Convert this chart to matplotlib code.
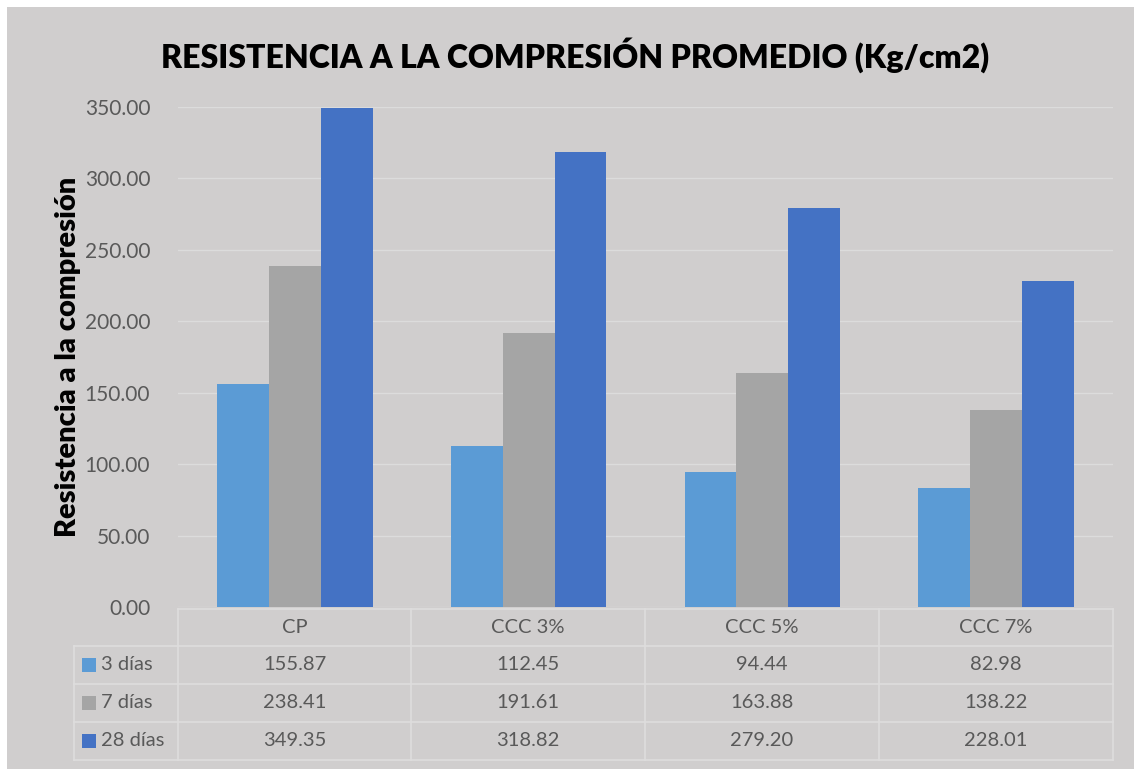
import matplotlib.pyplot as plt
from matplotlib.patches import Rectangle
import numpy as np

# data
categories = ["CP", "CCC 3%", "CCC 5%", "CCC 7%"]
series_names = ["3 días", "7 días", "28 días"]
dias_3 = [155.87, 112.45, 94.44, 82.98]
dias_7 = [238.41, 191.61, 163.88, 138.22]
dias_28 = [349.35, 318.82, 279.20, 228.01]
series_values = [dias_3, dias_7, dias_28]
colors = ["#5B9BD5", "#A5A5A5", "#4472C4"]
yticks = [0, 50, 100, 150, 200, 250, 300, 350]

BG = "#D0CECE"
LINE = "#DEDDDD"
TXT = "#595959"

plt.rcParams['font.family'] = ['Lato', 'DejaVu Sans']

W, H = 1134, 769
fig = plt.figure(figsize=(W / 100, H / 100), dpi=100, facecolor="white")
fig.patches.append(Rectangle((7 / W, 0), 1 - 7 / W, 1 - 7 / H,
                             transform=fig.transFigure, facecolor=BG,
                             edgecolor="none", zorder=-10))

def px(x0, y0, x1, y1):
    return [x0 / W, 1 - y1 / H, (x1 - x0) / W, (y1 - y0) / H]

ax = fig.add_axes(px(178, 107, 1113, 607))
ax.set_facecolor("none")
x = np.arange(len(categories))
bw = 0.222
for i, (vals, c) in enumerate(zip(series_values, colors)):
    ax.bar(x + (i - 1) * bw, vals, width=bw, color=c, zorder=3)

ax.set_xlim(-0.5, len(categories) - 0.5)
ax.set_ylim(0, 350)
ax.set_yticks(yticks)
ax.set_yticklabels([f"{v:.2f}" for v in yticks], fontsize=15, color=TXT)
ax.set_xticks([])
ax.tick_params(axis="y", length=0, pad=20)
ax.grid(axis="y", color="#DCDCDC", linewidth=1, zorder=0)
for s in ax.spines.values():
    s.set_visible(False)

ax.set_ylabel("Resistencia a la compresión", fontsize=21, fontweight="heavy",
              color="black", labelpad=3)
fig.text(575 / W, 1 - 55 / H, "RESISTENCIA A LA COMPRESIÓN PROMEDIO (Kg/cm2)",
         ha="center", va="center", fontsize=23, fontweight="heavy", color="black")

# data table below the axes, drawn in pixel coordinates
tr = fig.transFigure
def fx(v):
    return v / W
def fy(v):
    return 1 - v / H

col_edges = [178, 411, 645, 879, 1113]
row_edges = [609, 646, 684, 722, 760]
lab_left = 74

def hline(y, x0, x1):
    fig.add_artist(plt.Line2D([fx(x0), fx(x1)], [fy(y), fy(y)], transform=tr,
                              color=LINE, linewidth=1.2))

def vline(xv, y0, y1):
    fig.add_artist(plt.Line2D([fx(xv), fx(xv)], [fy(y0), fy(y1)], transform=tr,
                              color=LINE, linewidth=1.2))

hline(row_edges[0], col_edges[0], col_edges[-1])
for y in row_edges[1:]:
    hline(y, lab_left, col_edges[-1])
for xv in col_edges:
    vline(xv, row_edges[0], row_edges[-1])
vline(lab_left, row_edges[1], row_edges[-1])

for j, cat in enumerate(categories):
    cx = (col_edges[j] + col_edges[j + 1]) / 2
    cy = (row_edges[0] + row_edges[1]) / 2
    fig.text(fx(cx), fy(cy), cat, ha="center", va="center", fontsize=14.5, color=TXT)

for i, (name, vals, c) in enumerate(zip(series_names, series_values, colors)):
    cy = (row_edges[i + 1] + row_edges[i + 2]) / 2
    fig.patches.append(Rectangle((fx(82), fy(cy + 7)), 14 / W, 14 / H,
                                 transform=tr, facecolor=c, edgecolor="none"))
    fig.text(fx(101), fy(cy), name, ha="left", va="center", fontsize=14.5, color=TXT)
    for j, v in enumerate(vals):
        cx = (col_edges[j] + col_edges[j + 1]) / 2
        fig.text(fx(cx), fy(cy), f"{v:.2f}", ha="center", va="center",
                 fontsize=14.5, color=TXT)

fig.savefig("out.png", dpi=100, facecolor="white")
